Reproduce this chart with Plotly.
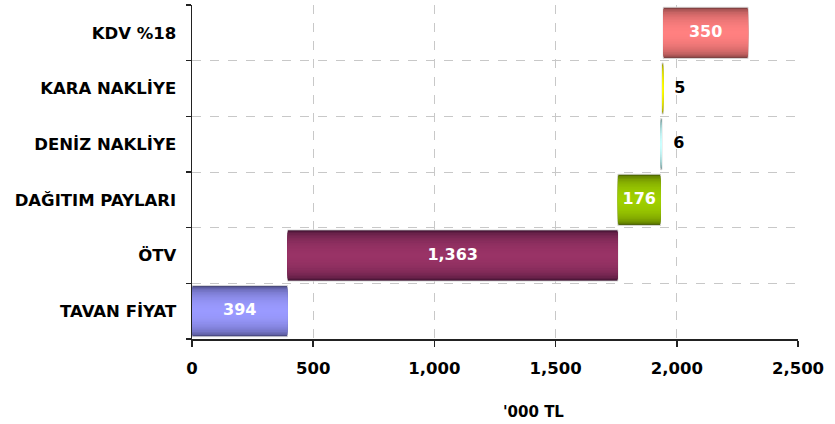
import plotly.graph_objects as go

categories = ["TAVAN FİYAT", "ÖTV", "DAĞITIM PAYLARI", "DENİZ NAKLİYE", "KARA NAKLİYE", "KDV %18"]
values = [394, 1363, 176, 6, 5, 350]
labels = ["394", "1,363", "176", "6", "5", "350"]
edge_colors = ["#44447a", "#3e1230", "#4a6000", "#5a7a7a", "#7a7a00", "#7a3c3c"]
center_colors = ["#9a9aff", "#993366", "#9fcf00", "#ccffff", "#ffff00", "#ff8080"]
x_ticks = [0, 500, 1000, 1500, 2000, 2500]
x_tick_text = ["0", "500", "1,000", "1,500", "2,000", "2,500"]

bases = []
acc = 0
for v in values:
    bases.append(acc)
    acc += v

def hex2rgb(h):
    h = h.lstrip("#")
    return tuple(int(h[i:i + 2], 16) for i in (0, 2, 4))

def mix(c1, c2, t):
    a, b = hex2rgb(c1), hex2rgb(c2)
    return "rgb(%d,%d,%d)" % tuple(round(a[i] + (b[i] - a[i]) * t) for i in range(3))

fig = go.Figure()
N = 16
full_w = 0.92
for k in range(N):
    d = 1 - k / N
    t = (1 - d * d) ** 0.5
    w = full_w * d
    cols = [mix(e, c, t) for e, c in zip(edge_colors, center_colors)]
    fig.add_trace(go.Bar(
        y=categories, x=values, base=bases, orientation="h",
        width=[w] * len(values),
        marker=dict(color=cols,
                    line=dict(width=1 if k == 0 else 0, color="rgba(220,220,220,0.9)")),
        hoverinfo="skip", showlegend=False,
    ))

inside = [v >= 50 for v in values]
fig.add_trace(go.Scatter(
    y=[c for c, i in zip(categories, inside) if i],
    x=[b + v / 2 for b, v, i in zip(bases, values, inside) if i],
    text=[l for l, i in zip(labels, inside) if i],
    mode="text", textposition="middle center",
    textfont=dict(family="DejaVu Sans", size=16, color="white", weight="bold"),
    hoverinfo="skip", showlegend=False, cliponaxis=False,
))
fig.add_trace(go.Scatter(
    y=[c for c, i in zip(categories, inside) if not i],
    x=[b + v for b, v, i in zip(bases, values, inside) if not i],
    text=["  " + l for l, i in zip(labels, inside) if not i],
    mode="text", textposition="middle right",
    textfont=dict(family="DejaVu Sans", size=16, color="black", weight="bold"),
    hoverinfo="skip", showlegend=False, cliponaxis=False,
))

fig.update_layout(
    width=835, height=424,
    margin=dict(l=192, r=37, t=5, b=85, autoexpand=False),
    paper_bgcolor="white", plot_bgcolor="white",
    barmode="overlay",
    font=dict(family="DejaVu Sans", size=16, color="black"),
    xaxis=dict(
        range=[0, 2500], tickvals=x_ticks, ticktext=x_tick_text,
        showgrid=True, gridcolor="#c8c8c8", griddash="dash", gridwidth=1,
        showline=True, linecolor="#222", linewidth=1.5,
        ticks="outside", ticklen=6, tickcolor="#222", tickwidth=1.5,
        tickfont=dict(family="DejaVu Sans", size=16.5, color="black", weight="bold"),
        ticklabelstandoff=8, zeroline=False, fixedrange=True, automargin=False,
    ),
    yaxis=dict(
        type="category", categoryorder="array", categoryarray=categories,
        tickson="boundaries",
        showgrid=True, gridcolor="#c8c8c8", griddash="dash", gridwidth=1,
        showline=True, linecolor="#222", linewidth=1.5,
        ticks="outside", ticklen=5, tickcolor="#222", tickwidth=1.5,
        tickfont=dict(family="DejaVu Sans", size=16.5, color="black", weight="bold"),
        ticklabelstandoff=11, fixedrange=True, automargin=False,
    ),
    annotations=[dict(
        text="'000 TL", xref="paper", yref="paper", x=0.563, y=-0.2186,
        xanchor="center", yanchor="middle", showarrow=False,
        font=dict(family="DejaVu Sans", size=15, color="black", weight="bold"),
    )],
)

fig.write_html("out.html", config={"displayModeBar": False, "staticPlot": True},
               post_script="document.body.style.margin='0';document.body.style.overflow='hidden';")
